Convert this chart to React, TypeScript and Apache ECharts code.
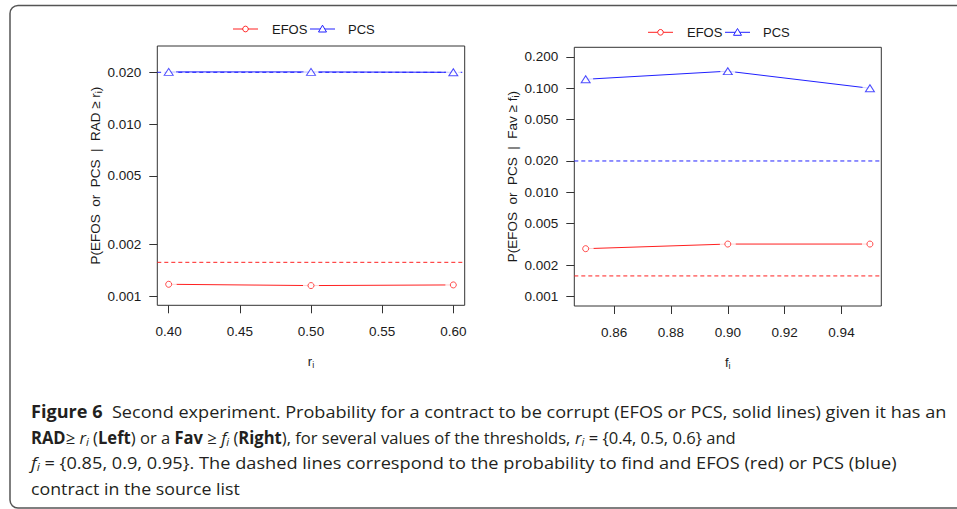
import React, { useEffect, useRef } from 'react';
import * as echarts from 'echarts';

// ---------- data ----------
const leftX = [0.4, 0.5, 0.6];
const leftEFOS = [0.00117, 0.00115, 0.00116];
const leftPCS = [0.0201, 0.0201, 0.02];
const rightX = [0.85, 0.9, 0.95];
const rightEFOS = [0.00287, 0.00318, 0.00318];
const rightPCS = [0.122, 0.146, 0.1];
const baseEFOS = 0.00157;
const basePCS = 0.02;
const leftXTicks = [0.4, 0.45, 0.5, 0.55, 0.6];
const rightXTicks = [0.86, 0.88, 0.9, 0.92, 0.94];
const leftYTicks = [0.001, 0.002, 0.005, 0.01, 0.02];
const rightYTicks = [0.001, 0.002, 0.005, 0.01, 0.02, 0.05, 0.1, 0.2];
const leftXRange = [0.392, 0.608];
const rightXRange = [0.846, 0.954];
const leftYRange = [0.000883, 0.02844];
const rightYRange = [0.000807, 0.2477];

const RED = '#ff2020';
const BLUE = '#2020ff';
const INK = '#1a1a1a';
const AXIS_FONT = 'Liberation Sans, Arial, sans-serif';
const CAP_FONT = 'Open Sans, sans-serif';
const L = (v: number) => Math.log10(v);

function panelSeries(gi: number, xs: number[], range: number[], efos: number[], pcs: number[]) {
  const mk = (ys: number[]) => xs.map((x, i) => [x, L(ys[i])]);
  const flat = (v: number) => [[range[0], L(v)], [range[1], L(v)]];
  const common = { xAxisIndex: gi, yAxisIndex: gi, silent: true };
  return [
    { ...common, type: 'line', data: flat(baseEFOS), symbol: 'none', lineStyle: { color: RED, width: 1, type: [4, 3] }, z: 2 },
    { ...common, type: 'line', data: flat(basePCS), symbol: 'none', lineStyle: { color: BLUE, width: 1, type: [4, 3] }, z: 2 },
    { ...common, type: 'line', name: 'EFOS', data: mk(efos), symbol: 'none', lineStyle: { color: RED, width: 1 }, z: 2 },
    { ...common, type: 'line', name: 'PCS', data: mk(pcs), symbol: 'none', lineStyle: { color: BLUE, width: 1 }, z: 2 },
    { ...common, type: 'scatter', data: mk(efos), symbol: 'circle', symbolSize: 16, itemStyle: { color: '#fff' }, z: 3 },
    { ...common, type: 'scatter', data: mk(pcs), symbol: 'circle', symbolSize: 15, itemStyle: { color: '#fff' }, z: 3 },
    { ...common, type: 'scatter', data: mk(efos), symbol: 'circle', symbolSize: 6, itemStyle: { color: '#fff', borderColor: RED, borderWidth: 1 }, z: 4 },
    { ...common, type: 'scatter', data: mk(pcs), symbol: 'triangle', symbolSize: [9, 7], itemStyle: { color: '#fff', borderColor: BLUE, borderWidth: 1 }, z: 4 },
  ];
}

const nameRich = {
  s: { fontSize: 9, lineHeight: 9, verticalAlign: 'bottom', fontFamily: AXIS_FONT, color: INK },
};

function xAxis(gi: number, range: number[], ticks: number[], name: string) {
  return {
    type: 'value', gridIndex: gi, min: range[0], max: range[1],
    axisLine: { show: false }, splitLine: { show: false },
    axisTick: { show: true, inside: false, length: 8, customValues: ticks, lineStyle: { color: '#333', width: 1 } },
    axisLabel: { customValues: ticks, formatter: (v: number) => v.toFixed(2), margin: 19, fontSize: 13.5, color: INK, fontFamily: AXIS_FONT },
    name, nameLocation: 'middle', nameGap: 48,
    nameTextStyle: { fontSize: 13, lineHeight: 16, color: INK, fontFamily: AXIS_FONT, rich: nameRich },
  };
}

function yAxis(gi: number, range: number[], ticks: number[], name: string) {
  return {
    type: 'value', gridIndex: gi, min: L(range[0]), max: L(range[1]),
    axisLine: { show: false }, splitLine: { show: false },
    axisTick: { show: true, inside: false, length: 8, customValues: ticks.map(L), lineStyle: { color: '#333', width: 1 } },
    axisLabel: { customValues: ticks.map(L), formatter: (v: number) => Math.pow(10, v).toFixed(3), margin: 16, fontSize: 13.5, color: INK, fontFamily: AXIS_FONT },
    name, nameLocation: 'middle', nameGap: 52, nameRotate: 90,
    nameTextStyle: { fontSize: 13.5, lineHeight: 16, color: INK, fontFamily: AXIS_FONT, rich: nameRich },
  };
}

function legend(cx0: number, cy: number) {
  const els: any[] = [];
  els.push({ type: 'line', shape: { x1: cx0, y1: cy, x2: cx0 + 25, y2: cy }, style: { stroke: RED, lineWidth: 1 } });
  els.push({ type: 'circle', shape: { cx: cx0 + 12.5, cy, r: 2.8 }, style: { fill: '#fff', stroke: RED, lineWidth: 1 } });
  els.push({ type: 'text', x: cx0 + 39, y: cy, style: { text: 'EFOS', fontSize: 13, fontFamily: AXIS_FONT, fill: INK, verticalAlign: 'middle' } });
  const bx = cx0 + 77;
  els.push({ type: 'line', shape: { x1: bx, y1: cy, x2: bx + 25, y2: cy }, style: { stroke: BLUE, lineWidth: 1 } });
  els.push({ type: 'polygon', shape: { points: [[bx + 8.5, cy + 3], [bx + 16.5, cy + 3], [bx + 12.5, cy - 3.8]] }, style: { fill: '#fff', stroke: BLUE, lineWidth: 1 } });
  els.push({ type: 'text', x: bx + 38, y: cy, style: { text: 'PCS', fontSize: 13, fontFamily: AXIS_FONT, fill: INK, verticalAlign: 'middle' } });
  return els;
}

const CAP_INK = '#231f20';
const capRich = {
  b: { fontWeight: 'bold', fontSize: 17, fontFamily: CAP_FONT, fill: CAP_INK },
  i: { fontStyle: 'italic', fontSize: 17, fontFamily: CAP_FONT, fill: CAP_INK, lineHeight: 20 },
  s: { fontStyle: 'italic', fontSize: 11.5, fontFamily: CAP_FONT, fill: CAP_INK, lineHeight: 12, verticalAlign: 'bottom' },
};

const captionLines = [
  '{b|Figure 6}  Second experiment. Probability for a contract to be corrupt (EFOS or PCS, solid lines) given it has an',
  '{b|RAD}≥ {i|r}{s|i} ({b|Left}) or a {b|Fav} ≥ {i|f}{s|i} ({b|Right}), for several values of the thresholds, {i|r}{s|i} = {0.4, 0.5, 0.6} and',
  '{i|f}{s|i} = {0.85, 0.9, 0.95}. The dashed lines correspond to the probability to find and EFOS (red) or PCS (blue)',
  'contract in the source list',
];
const captionScale = [1.065, 0.975, 1.07, 1.045];

export default function App() {
  const ref = useRef<HTMLDivElement>(null);
  useEffect(() => {
    if (!ref.current) return;
    const chart = echarts.init(ref.current, undefined, { renderer: 'svg' });
    const caption = captionLines.map((t, k) => ({
      type: 'text', x: 31, y: 411.5 + k * 25.5, scaleX: captionScale[k],
      style: { text: t, fontSize: 17, lineHeight: 20, fontFamily: CAP_FONT, fill: CAP_INK, verticalAlign: 'middle', rich: capRich },
    }));
    chart.setOption({
      animation: false,
      backgroundColor: '#fff',
      grid: [
        { left: 157.3, top: 46, width: 307.4, height: 259.3, show: true, borderColor: '#333', borderWidth: 1, backgroundColor: 'transparent' },
        { left: 574.3, top: 47.3, width: 307, height: 258.7, show: true, borderColor: '#333', borderWidth: 1, backgroundColor: 'transparent' },
      ],
      xAxis: [
        xAxis(0, leftXRange, leftXTicks, 'r{s|i}'),
        xAxis(1, rightXRange, rightXTicks, 'f{s|i}'),
      ],
      yAxis: [
        yAxis(0, leftYRange, leftYTicks, 'P(EFOS  or  PCS  |  RAD ≥ r{s|i})'),
        yAxis(1, rightYRange, rightYTicks, 'P(EFOS  or  PCS  |  Fav ≥ f{s|i})'),
      ],
      series: [
        ...panelSeries(0, leftX, leftXRange, leftEFOS, leftPCS),
        ...panelSeries(1, rightX, rightXRange, rightEFOS, rightPCS),
      ],
      graphic: [
        { type: 'rect', shape: { x: 10, y: 5.5, width: 1000, height: 502.5, r: 8 }, style: { fill: 'none', stroke: '#555', lineWidth: 1.5 }, silent: true },
        ...legend(233, 29),
        ...legend(648, 32.3),
        ...caption,
      ],
    });
    return () => chart.dispose();
  }, []);
  return <div ref={ref} style={{ position: 'fixed', left: 0, top: 0, width: 957, height: 509 }} />;
}
